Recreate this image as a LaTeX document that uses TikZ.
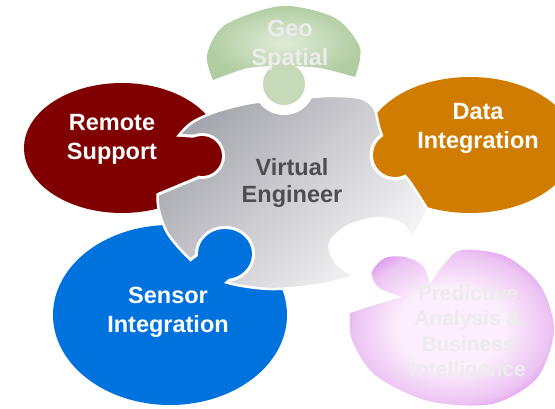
\documentclass[tikz,border=0pt]{standalone}
\usepackage{fontspec}
\setmainfont{Liberation Sans}
\usetikzlibrary{calc}

\definecolor{remotered}{RGB}{128,0,0}
\definecolor{dataorange}{RGB}{208,124,0}
\definecolor{sensorblue}{RGB}{0,114,222}
\definecolor{geoedge}{RGB}{176,204,160}
\definecolor{geoinner}{RGB}{224,236,216}
\definecolor{geostem}{RGB}{198,218,186}
\definecolor{predictedge}{RGB}{200,100,228}
\definecolor{predictmid}{RGB}{236,195,243}
\definecolor{predictinner}{RGB}{252,238,252}
\definecolor{metaldark}{RGB}{166,166,174}
\definecolor{metallight}{RGB}{246,246,248}
\definecolor{labelgrey}{RGB}{236,236,236}
\definecolor{centregrey}{RGB}{78,78,80}

\pgfdeclareradialshading{predictshade}{\pgfpoint{0bp}{0bp}}{color(0bp)=(predictinner); color(13bp)=(predictinner); color(24bp)=(predictmid); color(33bp)=(predictedge); color(50bp)=(predictedge)}

\tikzset{
    piecetext/.style={font=\bfseries\fontsize{23.5}{29}\selectfont, align=center, text=white, inner sep=0pt},
    knobring/.style={white, line width=6pt, line join=round}
}

\begin{document}
\begin{tikzpicture}[x=1pt,y=-1pt]
    \useasboundingbox (0,0) rectangle (555,409);
    \fill[white] (0,0) rectangle (555,409);

    % outline of the centre piece
    \def\greyoutline{plot[smooth] coordinates {(428,210) (410,182) (392,160) (380,130) (374,108) (360,98) (330,96) (290,99) (250,103) (215,112) (190,124) (172,145) (160,175) (158,205) (168,234) (194,263) (225,282) (270,289) (318,285) (355,276)}
        -- plot[smooth] coordinates {(355,276) (336,263) (330,243) (348,226) (378,218) (402,224) (412,240)} -- cycle}

    \coordinate (geoknob) at (284,84);
    \coordinate (remoteknob) at (202,156);
    \coordinate (dataknob) at (395,155);
    \coordinate (sensorknob) at (225,254);

    % outer pieces
    \fill[remotered] (122,148) ellipse[x radius=98pt, y radius=65pt];
    \fill[dataorange] (470,145) ellipse[x radius=105pt, y radius=68pt];
    \fill[sensorblue] (170,315) ellipse[x radius=117pt, y radius=90pt];
    \shade[inner color=geoinner, outer color=geoedge]
        plot[smooth] coordinates {(213,80) (207,55) (225,25) (282,6) (335,18) (360,48) (355,77)}
        -- plot[smooth] coordinates {(355,77) (320,68) (284,66) (248,68) (213,80)} -- cycle;
    \shade[shading=predictshade]
        plot[smooth] coordinates {(350,313) (378,304) (402,297)}
        -- plot[smooth] coordinates {(402,297) (378,287) (372,272) (385,258) (405,257) (423,266) (430,284)}
        -- plot[smooth] coordinates {(430,284) (445,263) (462,250) (505,256) (540,285) (554,330) (537,378) (492,404) (428,401) (375,375) (352,340) (350,313)} -- cycle;

    % centre piece
    \shade[top color=metaldark, bottom color=metallight, shading angle=45] \greyoutline;
    \draw[white, line width=2.5pt] \greyoutline;

    % notches round the knobs
    \begin{scope}
        \clip \greyoutline;
        \fill[white] (geoknob) circle[radius=31pt];
        \fill[white] (dataknob) circle[radius=25.5pt];
        \filldraw[knobring] (150,135) -- (198,138) -- (198,176) -- (150,196) -- cycle;
        \fill[white] (remoteknob) circle[radius=23pt];
        \filldraw[knobring] (190,262) -- (212,246) -- (236,272) -- (214,292) -- cycle;
        \fill[white] (sensorknob) ellipse[x radius=30pt, y radius=28pt];
    \end{scope}

    % knobs
    \fill[geostem] (geoknob) circle[radius=21pt];
    \fill[dataorange] (dataknob) circle[radius=22pt];
    \fill[remotered] (150,135) -- (198,138) -- (198,176) -- (150,196) -- cycle;
    \fill[remotered] (remoteknob) circle[radius=20pt];
    \fill[sensorblue] (190,262) -- (212,246) -- (236,272) -- (214,292) -- cycle;
    \fill[sensorblue] (sensorknob) ellipse[x radius=27pt, y radius=25pt];

    % texts
    \node[piecetext] (remote) at (112,139) {Remote\\Support};
    \node[piecetext] (data) at (478,128) {Data\\Integration};
    \node[piecetext] (sensor) at (168,312) {Sensor\\Integration};
    \node[piecetext, text=labelgrey] (geo) at (290,45) {Geo\\Spatial};
    \node[piecetext, text=labelgrey, font=\bfseries\fontsize{21}{25.5}\selectfont] (predict) at (468,333) {Predictive\\Analysis \&\\Business\\Intelligence};
    \node[piecetext, text=centregrey, font=\bfseries\fontsize{23.5}{27}\selectfont] (engineer) at (292,183) {Virtual\\Engineer};
\end{tikzpicture}
\end{document}
